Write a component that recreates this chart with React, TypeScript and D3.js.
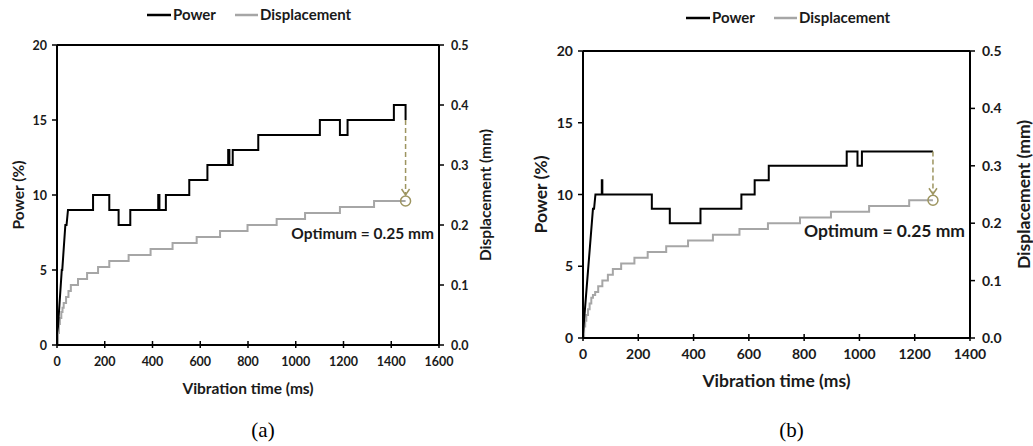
import * as d3 from "d3";
import React from "react";

// ---- panel (a) ----
const rampTimeA = [0, 4, 20, 22, 35, 40];
const rampPowerA = [0.8, 1.2, 5, 5, 8, 8];
const stepTimeA = [46, 151, 219, 258, 307, 424, 429, 456, 554, 630, 717, 722, 736, 843, 1101, 1185, 1217, 1411, 1460];
const stepPowerA = [9, 10, 9, 8, 9, 10, 9, 10, 11, 12, 13, 12, 13, 14, 15, 14, 15, 16, 15];
const dispTimeA = [0, 4, 8, 12, 18, 23, 28, 38, 48, 58, 88, 126, 172, 219, 300, 392, 484, 585, 683, 798, 920, 1039, 1185, 1328, 1460];
const dispA = [0, 0.02, 0.035, 0.045, 0.055, 0.062, 0.07, 0.08, 0.09, 0.1, 0.11, 0.12, 0.13, 0.14, 0.15, 0.16, 0.17, 0.18, 0.19, 0.2, 0.21, 0.22, 0.23, 0.24, 0.24];
const xTicksA = [0, 200, 400, 600, 800, 1000, 1200, 1400, 1600];

// ---- panel (b) ----
const rampTimeB = [0, 36, 40];
const rampPowerB = [0.3, 9, 9];
const stepTimeB = [45, 68, 70, 249, 314, 425, 573, 621, 672, 954, 993, 1009, 1266];
const stepPowerB = [10, 11, 10, 9, 8, 9, 10, 11, 12, 13, 12, 13, 13];
const dispTimeB = [0, 4, 8, 12, 18, 24, 30, 36, 44, 55, 70, 90, 108, 138, 186, 234, 301, 380, 470, 566, 669, 785, 897, 1035, 1180, 1266];
const dispB = [0, 0.02, 0.03, 0.04, 0.05, 0.06, 0.07, 0.075, 0.08, 0.09, 0.1, 0.11, 0.12, 0.13, 0.14, 0.15, 0.16, 0.17, 0.18, 0.19, 0.2, 0.21, 0.22, 0.23, 0.24, 0.24];
const xTicksB = [0, 200, 400, 600, 800, 1000, 1200, 1400];

const powerTicks = [0, 5, 10, 15, 20];
const dispTicks = [0, 0.1, 0.2, 0.3, 0.4, 0.5];
const optimumDisp = 0.24;
const optimumLabel = "Optimum = 0.25 mm";

const FONT = "Lato, 'Open Sans', sans-serif";
const OLIVE = "#9d9560";

// step-after points, vertical edges at each change
function stepPoints(ts: number[], vs: number[]) {
  const pts: [number, number][] = [];
  ts.forEach((t, i) => {
    if (i > 0) pts.push([t, vs[i - 1]]);
    pts.push([t, vs[i]]);
  });
  return pts;
}

type PanelProps = {
  x0: number; x1: number; yTop: number; yBot: number; xMax: number; xTicks: number[];
  rampT: number[]; rampP: number[]; stepT: number[]; stepP: number[];
  dispT: number[]; disp: number[];
  fs: number; titleFs: number; optFs: number; tag: string;
  legendX: number; legendY: number;
  yLabelLeftX: number; yLabelRightX: number;
};

function Panel(p: PanelProps) {
  const x = d3.scaleLinear().domain([0, p.xMax]).range([p.x0, p.x1]);
  const yP = d3.scaleLinear().domain([0, 20]).range([p.yBot, p.yTop]);
  const yD = d3.scaleLinear().domain([0, 0.5]).range([p.yBot, p.yTop]);

  const powerPts: [number, number][] = p.rampT.map((t, i) => [t, p.rampP[i]] as [number, number])
    .concat(stepPoints(p.stepT, p.stepP));
  const dispPts = p.dispT.map((t, i) => [t, p.disp[i]] as [number, number]);

  const powerLine = d3.line<[number, number]>().x(d => x(d[0])).y(d => yP(d[1]));
  const dispLine = d3.line<[number, number]>().x(d => x(d[0])).y(d => yD(d[1])).curve(d3.curveStepAfter);

  const endT = p.stepT[p.stepT.length - 1];
  const endP = p.stepP[p.stepP.length - 1];
  const cx = x(endT);
  const cy = yD(optimumDisp);
  const r = 5;
  const midY = (p.yTop + p.yBot) / 2;

  return (
    <g fontFamily={FONT} fontWeight={700} fill="#1a1a1a">
      {/* legend */}
      <g transform={`translate(${p.legendX},${p.legendY})`}>
        <line x1={0} x2={24} y1={0} y2={0} stroke="#000" strokeWidth={2.5} />
        <text x={26} y={5} fontSize={15}>Power</text>
        <line x1={88} x2={111} y1={0} y2={0} stroke="#a6a6a6" strokeWidth={2.5} />
        <text x={113} y={5} fontSize={15}>Displacement</text>
      </g>

      {/* data */}
      <path d={dispLine(dispPts) || ""} fill="none" stroke="#a6a6a6" strokeWidth={2} />
      <path d={powerLine(powerPts) || ""} fill="none" stroke="#000" strokeWidth={2} />

      {/* optimum marker */}
      <line x1={cx} x2={cx} y1={yP(endP)} y2={cy - r - 1} stroke={OLIVE} strokeWidth={1.5} strokeDasharray="5,3" />
      <path d={`M${cx - 4},${cy - r - 7} L${cx},${cy - r - 1} L${cx + 4},${cy - r - 7}`} fill="none" stroke={OLIVE} strokeWidth={1.5} />
      <circle cx={cx} cy={cy} r={r} fill="none" stroke={OLIVE} strokeWidth={1.5} />
      <text x={p.x1 - 5} y={cy + 38 * (p.yBot - p.yTop) / 300} textAnchor="end" fontSize={p.optFs}>{optimumLabel}</text>

      {/* frame */}
      <line x1={p.x0} x2={p.x1} y1={p.yTop} y2={p.yTop} stroke="#000" strokeWidth={2} />
      <line x1={p.x0} x2={p.x1} y1={p.yBot} y2={p.yBot} stroke="#000" strokeWidth={2} />
      <line x1={p.x0} x2={p.x0} y1={p.yTop} y2={p.yBot} stroke="#000" strokeWidth={2} />
      <line x1={p.x1} x2={p.x1} y1={p.yTop} y2={p.yBot} stroke="#000" strokeWidth={2} />

      {/* left axis */}
      {powerTicks.map(v => (
        <g key={"p" + v}>
          <line x1={p.x0 - 5} x2={p.x0} y1={yP(v)} y2={yP(v)} stroke="#000" strokeWidth={1.5} />
          <text x={p.x0 - 10} y={yP(v) + p.fs * 0.36} textAnchor="end" fontSize={p.fs}>{v}</text>
        </g>
      ))}
      {/* right axis */}
      {dispTicks.map(v => (
        <g key={"d" + v}>
          <line x1={p.x1} x2={p.x1 + 5} y1={yD(v)} y2={yD(v)} stroke="#000" strokeWidth={1.5} />
          <text x={p.x1 + 12} y={yD(v) + p.fs * 0.36} fontSize={p.fs}>{v.toFixed(1)}</text>
        </g>
      ))}
      {/* bottom axis */}
      {p.xTicks.map(v => (
        <g key={"x" + v}>
          <line x1={x(v)} x2={x(v)} y1={p.yBot - 4} y2={p.yBot + 3} stroke="#000" strokeWidth={1.5} />
          <text x={x(v)} y={p.yBot + 16 + p.fs * 0.36} textAnchor="middle" fontSize={p.fs}>{v}</text>
        </g>
      ))}

      {/* axis titles */}
      <text x={(p.x0 + p.x1) / 2} y={p.yBot + 49} textAnchor="middle" fontSize={p.titleFs}>Vibration time (ms)</text>
      <text transform={`translate(${p.yLabelLeftX},${midY}) rotate(-90)`} textAnchor="middle" fontSize={p.titleFs}>Power (%)</text>
      <text transform={`translate(${p.yLabelRightX},${midY}) rotate(-90)`} textAnchor="middle" fontSize={p.titleFs}>Displacement (mm)</text>

      <text x={(p.x0 + p.x1) / 2 + 15} y={437} textAnchor="middle" fontSize={21} fontWeight={400}
        fontFamily="'Liberation Serif', 'DejaVu Serif', serif" fill="#000">{p.tag}</text>
    </g>
  );
}

export default function App() {
  return (
    <svg width={1033} height={446} style={{ position: "absolute", left: 0, top: 0, background: "#fff" }}>
      <rect width={1033} height={446} fill="#fff" />
      <Panel x0={57} x1={439} yTop={45} yBot={345} xMax={1600} xTicks={xTicksA}
        rampT={rampTimeA} rampP={rampPowerA} stepT={stepTimeA} stepP={stepPowerA}
        dispT={dispTimeA} disp={dispA} fs={12.5} titleFs={15.5} optFs={15.5} tag="(a)"
        legendX={147} legendY={15} yLabelLeftX={24} yLabelRightX={491} />
      <Panel x0={583} x1={970} yTop={51} yBot={338} xMax={1400} xTicks={xTicksB}
        rampT={rampTimeB} rampP={rampPowerB} stepT={stepTimeB} stepP={stepPowerB}
        dispT={dispTimeB} disp={dispB} fs={14} titleFs={17.5} optFs={17.5} tag="(b)"
        legendX={686} legendY={18} yLabelLeftX={547} yLabelRightX={1030} />
    </svg>
  );
}
